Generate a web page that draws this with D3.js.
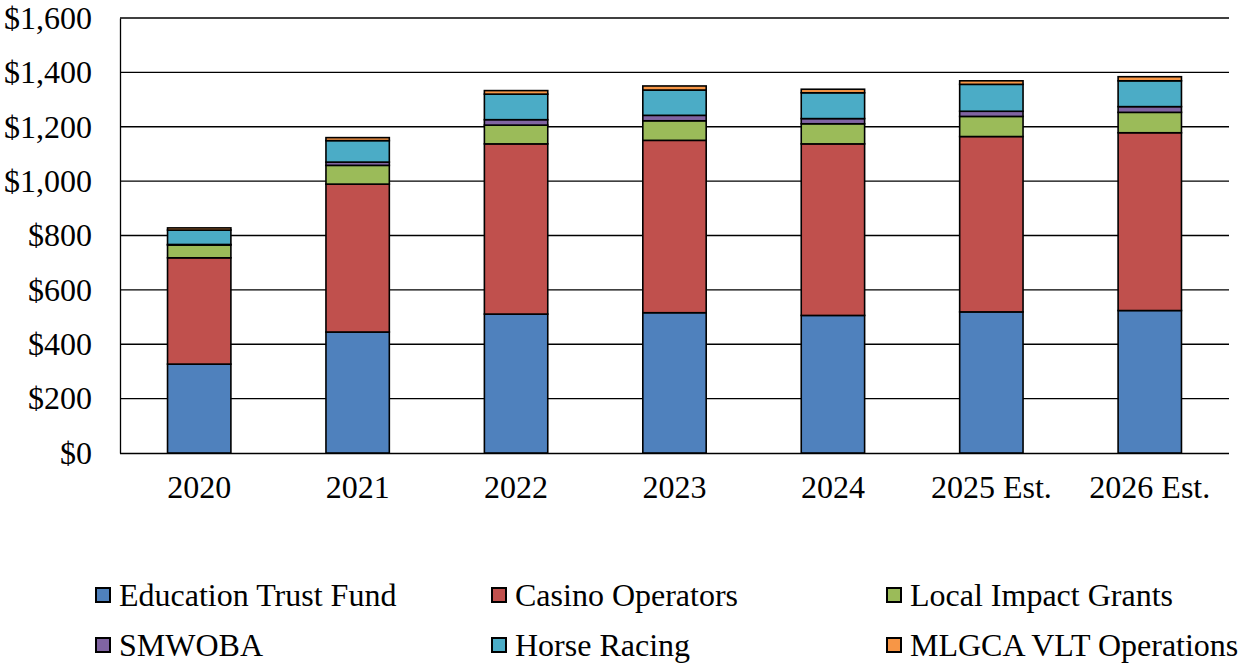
<!DOCTYPE html>
<html>
<head>
<meta charset="utf-8">
<script src="https://cdn.jsdelivr.net/npm/d3@7"></script>
<style>
  body { margin: 0; background: #fff; }
</style>
</head>
<body>
<svg id="chart" width="1254" height="663"></svg>
<script>
// Gaming revenue distribution by recipient, $ millions
const years = ["2020", "2021", "2022", "2023", "2024", "2025 Est.", "2026 Est."];
const seriesNames = ["Education Trust Fund", "Casino Operators", "Local Impact Grants", "SMWOBA", "Horse Racing", "MLGCA VLT Operations"];
const educationTrustFund = [327, 445, 511, 516, 506, 519, 524];
const casinoOperators    = [391, 544, 626, 634, 631, 645, 654];
const localImpactGrants  = [47, 69, 69, 72, 74, 74, 75];
const smwoba             = [2, 12, 20, 20, 19, 19, 21];
const horseRacing        = [53, 79, 94, 93, 95, 99, 95];
const mlgcaVltOps        = [8, 11, 13, 15, 13, 13, 15];
const yTicks = [0, 200, 400, 600, 800, 1000, 1200, 1400, 1600];
const colors = ["#4F81BD", "#C0504D", "#9BBB59", "#8064A2", "#4BACC6", "#F79646"];

const seriesValues = [educationTrustFund, casinoOperators, localImpactGrants, smwoba, horseRacing, mlgcaVltOps];
const rows = years.map((y, i) => {
  const r = { year: y };
  seriesNames.forEach((s, k) => { r[s] = seriesValues[k][i]; });
  return r;
});

const svg = d3.select("#chart");
const plotLeft = 120, plotRight = 1229, plotTop = 18, plotBottom = 453;
const fontFamily = "'Liberation Serif', 'Times New Roman', serif";
const fontSize = "32px";

const x = d3.scaleBand().domain(years).range([plotLeft, plotRight]).paddingInner(0.6).paddingOuter(0.3);
const y = d3.scaleLinear().domain([0, 1600]).range([plotBottom, plotTop]);

// Gridlines
svg.append("g")
  .selectAll("line")
  .data(yTicks.filter(d => d > 0))
  .join("line")
  .attr("x1", plotLeft).attr("x2", plotRight)
  .attr("y1", d => y(d)).attr("y2", d => y(d))
  .attr("stroke", "#000").attr("stroke-width", 1.3);

// Y axis
const yAxis = svg.append("g")
  .attr("transform", `translate(${plotLeft},0)`)
  .call(d3.axisLeft(y).tickValues(yTicks).tickSize(0).tickPadding(28)
    .tickFormat(d => "$" + d3.format(",")(d)));
yAxis.select(".domain").attr("stroke", "#000").attr("stroke-width", 1.3);
yAxis.selectAll("text")
  .style("font-family", fontFamily).style("font-size", fontSize)
  .attr("fill", "#000").attr("dy", "0.32em");

// X axis
const xAxis = svg.append("g")
  .attr("transform", `translate(0,${plotBottom})`)
  .call(d3.axisBottom(x).tickSize(0).tickPadding(22));
xAxis.select(".domain").attr("d", `M${plotLeft},0.5H${plotRight}`).attr("stroke", "#000").attr("stroke-width", 1.3);
xAxis.selectAll("text")
  .style("font-family", fontFamily).style("font-size", fontSize)
  .attr("fill", "#000");

// Stacked bars
const stack = d3.stack().keys(seriesNames)(rows);
svg.append("g")
  .selectAll("g")
  .data(stack)
  .join("g")
  .attr("fill", (d, i) => colors[i])
  .selectAll("rect")
  .data(d => d)
  .join("rect")
  .attr("x", d => x(d.data.year))
  .attr("width", x.bandwidth())
  .attr("y", d => y(d[1]))
  .attr("height", d => y(d[0]) - y(d[1]))
  .attr("stroke", "#000")
  .attr("stroke-width", 1.6);

// Legend: two rows of three entries
const legendCols = [95, 491, 886];
const legendRows = [595, 645];
const legend = svg.append("g");
seriesNames.forEach((name, i) => {
  const cx = legendCols[i % 3];
  const cy = legendRows[Math.floor(i / 3)];
  legend.append("rect")
    .attr("x", cx + 1).attr("y", cy - 7).attr("width", 14).attr("height", 14)
    .attr("fill", colors[i]).attr("stroke", "#000").attr("stroke-width", 2);
  legend.append("text")
    .attr("x", cx + 24).attr("y", cy).attr("dy", "0.33em")
    .style("font-family", fontFamily).style("font-size", fontSize)
    .attr("fill", "#000")
    .text(name);
});
</script>
</body>
</html>
